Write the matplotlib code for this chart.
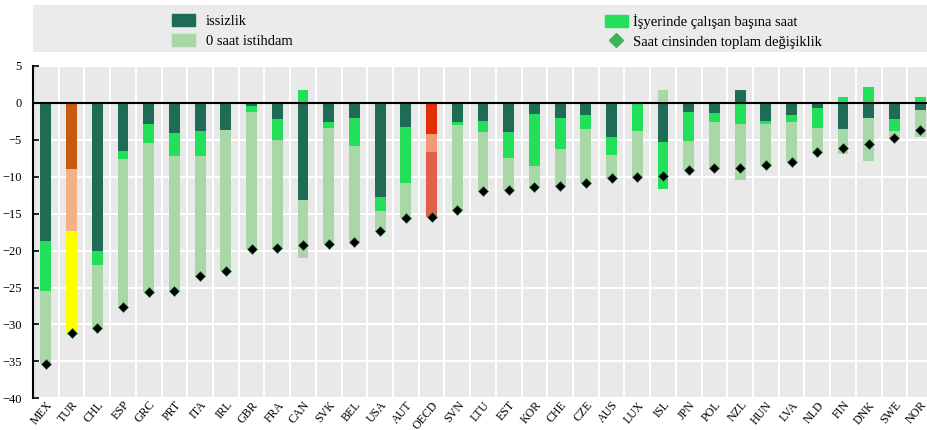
import numpy as np
import matplotlib
matplotlib.use("Agg")
import matplotlib.pyplot as plt
from matplotlib.lines import Line2D
from matplotlib.patches import Rectangle

# ── data (percentage points) ──────────────────────────────────────────────
countries = ["MEX", "TUR", "CHL", "ESP", "GRC", "PRT", "ITA", "IRL", "GBR", "FRA",
             "CAN", "SVK", "BEL", "USA", "AUT", "OECD", "SVN", "LTU", "EST", "KOR",
             "CHE", "CZE", "AUS", "LUX", "ISL", "JPN", "POL", "NZL", "HUN", "LVA",
             "NLD", "FIN", "DNK", "SWE", "NOR"]

unemployment = [-18.7, -9.0, -20.1, -6.5, -2.9, -4.1, -3.8, -3.6, -0.45, -2.2,
                -13.1, -2.6, -2.0, -12.8, -3.3, -4.2, -2.6, -2.4, -3.9, -1.5,
                -2.0, -1.7, -4.6, 0.0, -5.3, -1.2, -1.4, 1.75, -2.4, -1.65,
                -0.7, -3.5, -2.05, -2.2, -0.95]

hours_per_worker = [-6.8, -8.4, -1.9, -1.1, -2.55, -3.05, -3.4, 0.0, -0.8, -2.8,
                    1.8, -0.75, -3.8, -1.8, -7.6, -2.45, -0.45, -1.6, -3.5, -7.1,
                    -4.2, -1.8, -2.45, -3.8, -6.3, -3.9, -1.25, -2.9, -0.4, -1.0,
                    -2.7, 0.76, 2.1, -1.55, 0.76]

zero_hours = [-9.8, -13.8, -8.5, -20.1, -20.15, -18.35, -16.3, -19.2, -18.55, -14.6,
              -7.9, -15.75, -13.0, -2.7, -4.7, -8.75, -11.45, -7.9, -4.4, -2.8,
              -5.05, -7.35, -3.05, -6.2, 1.7, -4.0, -6.15, -7.6, -5.6, -5.35,
              -3.3, -3.4, -5.75, -0.95, -3.65]

total_change = [-35.3, -31.2, -30.5, -27.7, -25.6, -25.5, -23.5, -22.8, -19.8, -19.6,
                -19.2, -19.1, -18.8, -17.3, -15.6, -15.4, -14.5, -11.9, -11.8, -11.4,
                -11.25, -10.85, -10.1, -10.0, -9.9, -9.1, -8.8, -8.75, -8.4, -8.0,
                -6.7, -6.1, -5.6, -4.7, -3.7]

labels = ["issizlik", "İşyerinde çalışan başına saat", "0 saat istihdam",
          "Saat cinsinden toplam değişiklik"]

# ── colours ───────────────────────────────────────────────────────────────
BG = "#e9e9e9"
DARK_GREEN = "#1e6b56"
BRIGHT_GREEN = "#22e05a"
LIGHT_GREEN = "#a8d8a8"
LEGEND_DIAMOND = "#3cb55a"
SPECIAL = {  # TUR and OECD get their own colours (unemp, hours, zero-hours)
    "TUR": ["#c55a11", "#f4b183", "#ffff00"],
    "OECD": ["#e03000", "#f4977a", "#e0604a"],
}

plt.rcParams["font.family"] = ["Liberation Serif", "DejaVu Serif"]

fig = plt.figure(figsize=(9.27, 4.3), dpi=100)
ax = fig.add_axes([33 / 927, 1 - 398.3 / 430, 900 / 927, (398.3 - 66) / 430])
ax.set_facecolor(BG)

x = np.arange(len(countries))
series = [unemployment, hours_per_worker, zero_hours]
base_colors = [DARK_GREEN, BRIGHT_GREEN, LIGHT_GREEN]

# positive and negative parts are stacked separately from zero
pos_bottom = np.zeros(len(x))
neg_bottom = np.zeros(len(x))
containers = []
for k, (vals, col) in enumerate(zip(series, base_colors)):
    vals = np.array(vals)
    bottom = np.where(vals >= 0, pos_bottom, neg_bottom)
    colors = [SPECIAL[c][k] if c in SPECIAL else col for c in countries]
    bc = ax.bar(x, vals, bottom=bottom, width=0.42, color=colors,
                edgecolor="none", zorder=3)
    containers.append(bc)
    pos_bottom += np.where(vals >= 0, vals, 0)
    neg_bottom += np.where(vals < 0, vals, 0)

ax.plot(x, total_change, linestyle="none", marker="D", markersize=5,
        color="black", markeredgecolor="#2f7f45", markeredgewidth=0.4, zorder=5)

ax.axhline(0, color="black", linewidth=1.5, zorder=4)

# ── axes styling ──────────────────────────────────────────────────────────
ax.set_xlim(-0.5, len(x) - 0.5)
ax.set_ylim(-40, 5)
ax.set_yticks(np.arange(-40, 6, 5))
ax.set_xticks(x)
ax.set_xticklabels(countries, rotation=50, ha="right", rotation_mode="anchor",
                   fontsize=8.6)
ax.tick_params(axis="x", length=0, pad=0.5)
ax.tick_params(axis="y", direction="in", length=4, width=1.2, labelsize=9,
               pad=8)
ax.set_xticks(np.arange(-0.5, len(x), 1), minor=True)
ax.grid(False)
ax.yaxis.grid(True, color="white", linewidth=1.5, zorder=1)
ax.xaxis.grid(True, which="minor", color="white", linewidth=1.5, zorder=1)
ax.tick_params(axis="x", which="minor", length=0)
ax.set_axisbelow(True)
for name, sp in ax.spines.items():
    sp.set_visible(name == "left")
ax.spines["left"].set_linewidth(1.5)

# ── legend band ───────────────────────────────────────────────────────────
fig.patches.append(Rectangle((33 / 927, 1 - 52 / 430), 1, 47 / 430,
                             transform=fig.transFigure, facecolor="#ebebeb",
                             edgecolor="none", zorder=0))
diamond = Line2D([], [], linestyle="none", marker="D", markersize=7,
                 color=LEGEND_DIAMOND)
leg_kw = dict(frameon=False, fontsize=10.5, borderpad=0, borderaxespad=0,
              labelspacing=0.4, handlelength=1.55, handleheight=0.9,
              loc="upper left")
leg1 = fig.legend([containers[0], containers[2]], [labels[0], labels[2]],
                  bbox_to_anchor=(172 / 927, 1 - 14 / 430),
                  handletextpad=0.75, **leg_kw)
leg2 = fig.legend([containers[1], diamond], [labels[1], labels[3]],
                  bbox_to_anchor=(605 / 927, 1 - 14 / 430),
                  handletextpad=0.35, **leg_kw)
leg1.legend_handles[0].set_color(DARK_GREEN)
leg1.legend_handles[1].set_color(LIGHT_GREEN)
leg2.legend_handles[0].set_color(BRIGHT_GREEN)

fig.savefig("out.png", dpi=100, facecolor="white")
